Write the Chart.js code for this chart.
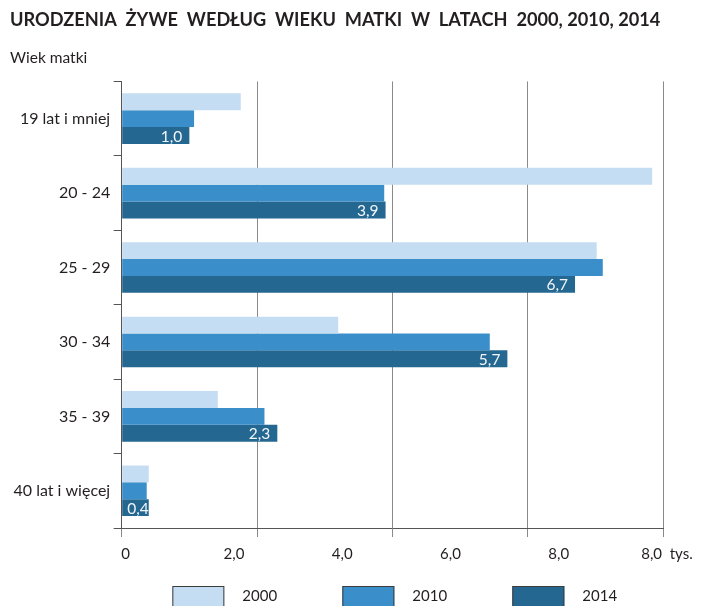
<!DOCTYPE html>
<html>
<head>
<meta charset="utf-8">
<script src="https://cdn.jsdelivr.net/npm/chart.js@4.4.1/dist/chart.umd.min.js"></script>
<style>
  html, body { margin: 0; padding: 0; background: #fff; }
  #wrap { width: 706px; height: 606px; }
</style>
</head>
<body>
<div id="wrap"><canvas id="chart"></canvas></div>
<script>
const ageGroups = ['19 lat i mniej', '20 - 24', '25 - 29', '30 - 34', '35 - 39', '40 lat i więcej'];
const years = ['2000', '2010', '2014'];
const births2000 = [1.76, 7.84, 7.02, 3.2, 1.42, 0.4];
const births2010 = [1.07, 3.88, 7.11, 5.44, 2.11, 0.37];
const births2014 = [1.0, 3.9, 6.7, 5.7, 2.3, 0.4];
const xTickLabels = ['0', '2,0', '4,0', '6,0', '8,0', '8,0  tys.'];

const colors = ['#c5ddf2', '#3a8ec9', '#246790'];
const fontFamily = 'Lato, "Open Sans", sans-serif';
const textColor = '#231f20';

const fmt = (v) => v.toFixed(1).replace('.', ',');

// white value labels at the end of the 2014 bars
const barValues = {
  id: 'barValues',
  afterDatasetsDraw(chart) {
    const ctx = chart.ctx;
    const meta = chart.getDatasetMeta(2);
    ctx.save();
    ctx.font = '15.5px ' + fontFamily;
    ctx.fillStyle = '#f2f6fa';
    ctx.textAlign = 'right';
    ctx.textBaseline = 'middle';
    meta.data.forEach((bar, i) => {
      const text = fmt(births2014[i]);
      const w = ctx.measureText(text).width;
      const x = Math.max(bar.x - 7, bar.base + w + 5);
      ctx.fillText(text, x, bar.y + 1);
    });
    ctx.restore();
  }
};

// legend centred under the plot area
const bottomLegend = {
  id: 'bottomLegend',
  afterDraw(chart) {
    const ctx = chart.ctx;
    const area = chart.chartArea;
    const cx = (area.left + area.right) / 2;
    const top = chart.height - 20;
    ctx.save();
    ctx.font = '15px ' + fontFamily;
    ctx.textBaseline = 'middle';
    ctx.textAlign = 'left';
    chart.data.datasets.forEach((ds, i) => {
      const x = cx - 220 + i * 170;
      ctx.fillStyle = ds.backgroundColor;
      ctx.fillRect(x, top, 52, 26);
      ctx.strokeStyle = '#3c3c3c';
      ctx.lineWidth = 1;
      ctx.strokeRect(x + 0.5, top + 0.5, 51, 26);
      ctx.fillStyle = textColor;
      ctx.fillText(ds.label, x + 70, top + 10);
    });
    ctx.restore();
  }
};

new Chart(document.getElementById('chart'), {
  type: 'bar',
  data: {
    labels: ageGroups,
    datasets: [
      { label: years[0], data: births2000, backgroundColor: colors[0] },
      { label: years[1], data: births2010, backgroundColor: colors[1] },
      { label: years[2], data: births2014, backgroundColor: colors[2] }
    ]
  },
  options: {
    indexAxis: 'y',
    responsive: true,
    maintainAspectRatio: false,
    animation: false,
    categoryPercentage: 0.68,
    barPercentage: 1.0,
    layout: { padding: { left: 10, right: 43, top: 0, bottom: 35 } },
    plugins: {
      legend: { display: false },
      tooltip: { enabled: false },
      title: {
        display: true,
        text: 'URODZENIA  ŻYWE  WEDŁUG  WIEKU  MATKI  W  LATACH  2000, 2010, 2014',
        align: 'start',
        color: textColor,
        font: { family: fontFamily, size: 18.2, weight: 'bold' },
        padding: { top: 9, bottom: 18 }
      },
      subtitle: {
        display: true,
        text: 'Wiek matki',
        align: 'start',
        color: textColor,
        font: { family: fontFamily, size: 15.5 },
        padding: { top: 0, bottom: 14 }
      }
    },
    scales: {
      x: {
        min: 0,
        max: 8,
        weight: 0,
        ticks: { display: false, stepSize: 2 },
        grid: { color: '#8a8a8a', tickLength: 9, drawTicks: true },
        border: { color: '#555' }
      },
      x2: {
        type: 'linear',
        position: 'bottom',
        axis: 'x',
        min: 0,
        max: 8,
        weight: 1,
        grid: { display: false, drawTicks: false, tickLength: 0 },
        border: { display: false },
        ticks: {
          stepSize: 1.6,
          padding: 8,
          labelOffset: 4,
          maxRotation: 0,
          autoSkip: false,
          color: textColor,
          font: { family: fontFamily, size: 15 },
          callback: (value, index) => xTickLabels[index]
        }
      },
      y: {
        grid: { offset: true, drawOnChartArea: false, tickLength: 8, color: '#555' },
        border: { color: '#555' },
        ticks: {
          padding: 3.5,
          color: textColor,
          font: { family: fontFamily, size: 16 }
        }
      }
    }
  },
  plugins: [barValues, bottomLegend]
});
</script>
</body>
</html>
